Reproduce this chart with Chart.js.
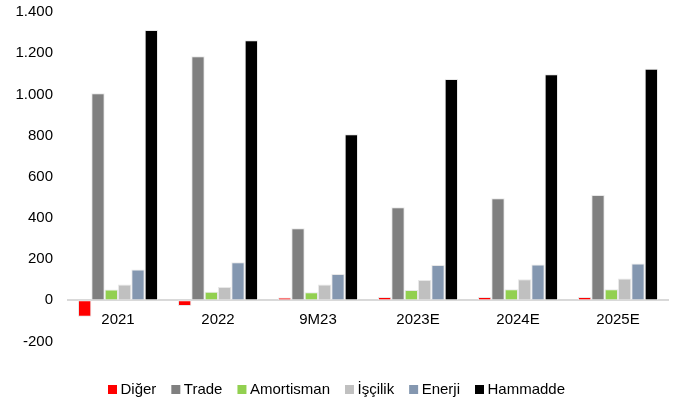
<!DOCTYPE html>
<html>
<head>
<meta charset="utf-8">
<script src="https://cdn.jsdelivr.net/npm/chart.js@4/dist/chart.umd.min.js"></script>
<style>
  html, body { margin: 0; padding: 0; background: #fff; }
  #wrap { width: 689px; height: 399px; }
</style>
</head>
<body>
<div id="wrap"><canvas id="chart"></canvas></div>
<script>
const categories = ['2021', '2022', '9M23', '2023E', '2024E', '2025E'];
const diger      = [-80, -28, 14, 16, 16, 16];
const trade      = [1005, 1185, 350, 452, 496, 511];
const amortisman = [52, 41, 39, 50, 54, 54];
const iscilik    = [77, 65, 77, 99, 102, 106];
const enerji     = [150, 185, 128, 171, 174, 179];
const hammadde   = [1312, 1263, 806, 1075, 1098, 1125];

const seriesNames = ['Diğer', 'Trade', 'Amortisman', 'İşçilik', 'Enerji', 'Hammadde'];
const seriesColors = ['#ff0000', '#808080', '#92d050', '#c0c0c0', '#8497b0', '#000000'];
const seriesData = [diger, trade, amortisman, iscilik, enerji, hammadde];

const datasets = seriesData.map((d, i) => ({
  label: seriesNames[i],
  data: d,
  backgroundColor: seriesColors[i],
  borderColor: 'rgba(230,230,230,0.9)',
  borderWidth: 1,
  borderSkipped: false,
  categoryPercentage: 0.8,
  barPercentage: 1.0
}));

const font = { family: '"Liberation Sans", Arial, sans-serif', size: 15 };

new Chart(document.getElementById('chart'), {
  type: 'bar',
  data: { labels: categories, datasets },
  options: {
    responsive: true,
    maintainAspectRatio: false,
    animation: false,
    layout: { padding: { left: 9, right: 21, top: 12, bottom: -8 } },
    plugins: {
      tooltip: { enabled: false },
      legend: {
        position: 'bottom',
        labels: {
          font,
          color: '#000',
          usePointStyle: true,
          pointStyle: 'rect',
          boxWidth: 1,
          boxHeight: 9,
          padding: 19,
          generateLabels: chart =>
            Chart.defaults.plugins.legend.labels.generateLabels(chart)
              .map(l => ({ ...l, lineWidth: 0, pointStyle: 'rect' }))
        }
      }
    },
    scales: {
      x: {
        position: { y: 0 },
        grid: { display: false, drawTicks: false },
        border: { color: '#d9d9d9', width: 2 },
        ticks: { font, color: '#000', padding: 11 },
        afterFit: s => { s.paddingTop = 0; s.paddingBottom = 0; }
      },
      // empty spacer axis to keep room between plot and legend
      gap: {
        type: 'category',
        position: 'bottom',
        grid: { display: false, drawTicks: false },
        border: { display: false },
        ticks: { display: false },
        afterFit: s => { s.height = 21.5; }
      },
      y: {
        min: -200,
        max: 1400,
        grid: { display: false, drawTicks: false },
        border: { display: false },
        afterFit: s => { s.width = 59; s.paddingTop = 0; s.paddingBottom = 0; },
        ticks: {
          stepSize: 200,
          font,
          color: '#000',
          padding: 15,
          callback: v => v.toLocaleString('de-DE')
        }
      }
    }
  }
});
</script>
</body>
</html>
